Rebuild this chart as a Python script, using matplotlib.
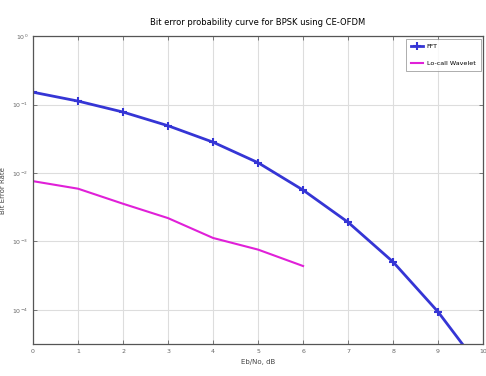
import numpy as np
import matplotlib
matplotlib.use("Agg")
import matplotlib.pyplot as plt

# data (log scale)
ebno = [0, 1, 2, 3, 4, 5, 6, 7, 8, 9, 10]
ber_fft = [10**-0.82, 10**-0.95, 10**-1.11, 10**-1.31, 10**-1.55, 10**-1.85,
           10**-2.25, 10**-2.72, 10**-3.30, 10**-4.03, 10**-4.9]
ebno_wav = [0, 1, 2, 3, 4, 5, 6]
ber_wav = [10**-2.12, 10**-2.23, 10**-2.45, 10**-2.66, 10**-2.95, 10**-3.12, 10**-3.36]

fig = plt.figure(figsize=(4.86, 3.76), dpi=100)
ax = fig.add_axes([0.068, 0.085, 0.926, 0.819])

ax.semilogy(ebno, ber_fft, '-+', color='#3535d5', lw=2.0, ms=6, mew=1.5, label='FFT')
ax.semilogy(ebno_wav, ber_wav, '-', color='#e020d8', lw=1.5, label='Lo-call Wavelet')

ax.set_xlim(0, 10)
ax.set_ylim(10**-4.5, 1)
ax.set_xticks(range(0, 11))
ax.set_yticks([1, 1e-1, 1e-2, 1e-3, 1e-4])
ax.minorticks_off()
ax.grid(True, color='#dddddd', lw=0.8)
ax.tick_params(labelsize=4.5, colors='#666666', length=3, width=0.6, direction='in',
               top=True, right=True)
for s in ax.spines.values():
    s.set_color('#555555')
    s.set_linewidth(0.9)

ax.set_title('Bit error probability curve for BPSK using CE-OFDM', fontsize=6, pad=8)
ax.set_xlabel('Eb/No, dB', fontsize=5, color='#444444')
ax.set_ylabel('Bit Error Rate', fontsize=5, color='#444444')

leg = ax.legend(loc='upper right', fontsize=4.6, frameon=True, fancybox=False,
                borderaxespad=0.4, handlelength=2.0, handletextpad=0.5,
                borderpad=0.8, labelspacing=1.8)
leg.get_frame().set_edgecolor('#888888')
leg.get_frame().set_linewidth(0.6)

plt.savefig('out.png', dpi=100)
